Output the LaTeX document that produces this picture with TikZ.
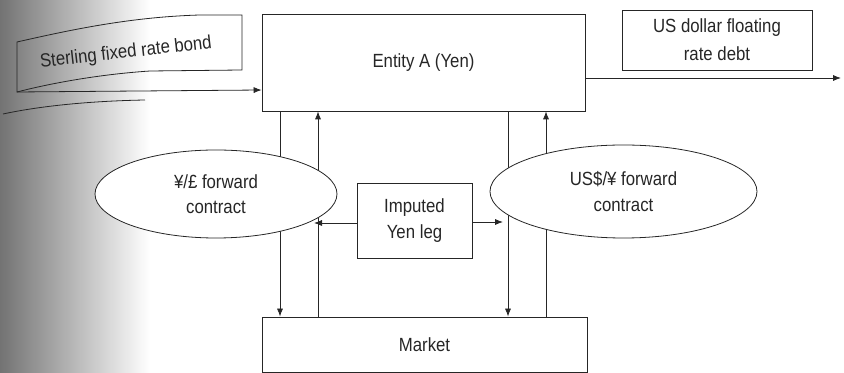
\documentclass[tikz,border=0pt]{standalone}
\usepackage{fontspec}
\setmainfont[FakeStretch=0.88]{Liberation Sans}
\usetikzlibrary{arrows.meta,shapes.geometric}

\begin{document}
\begin{tikzpicture}[
  x=0.75pt, y=-0.75pt,
  ln/.style={draw=black!85, line width=0.6pt},
  arr/.style={ln, -{Latex[length=6pt,width=4.6pt]}},
  lbl/.style={font=\fontsize{14.3}{19}\selectfont, text=black!85, align=center},
  boxnode/.style={ln, lbl, rectangle, inner sep=0pt},
  ovalnode/.style={ln, lbl, ellipse, fill=white, inner sep=0pt}
]
\useasboundingbox (0,0) rectangle (844,373);

% grey wash along the left margin
\shade[left color=black!55, middle color=black!22, right color=white] (0,0) rectangle (150,373);

% main boxes
\node[boxnode, minimum width=242.25pt, minimum height=72.75pt] (ent) at (423.5,62.5) {Entity A (Yen)};
\node[boxnode, minimum width=142.5pt, minimum height=45pt] (usd) at (717,40) {US dollar floating\\[2pt]rate debt};
\node[boxnode, minimum width=243.75pt, minimum height=41.25pt] (mkt) at (424.5,344.5) {Market};
\node[boxnode, minimum width=86.25pt, minimum height=56.25pt] (imp) at (414.5,220.5) {Imputed\\Yen leg};

% sterling bond sheet, drawn in perspective
\draw[ln] (17,42) .. controls (70,30) and (130,17) .. (200,15) -- (242,15) -- (242,70)
  -- (150,71) .. controls (90,75) and (40,86) .. (17,92) -- cycle;
\draw[ln] (3,114) .. controls (40,106) and (90,101) .. (145,100);
\node[lbl, rotate=6.5] (bond) at (126,53) {Sterling fixed rate bond};
\coordinate (bondtail) at (17,92);
\draw[arr] (bondtail) -- (ent.west |- 0,90);

% US dollar flow out of the entity
\coordinate (usout) at (841,78);
\draw[arr] (ent.east |- usout) -- (usout);

% flows between entity and market
\draw[arr] (ent.south -| 280,0) -- (mkt.north -| 280,0);
\draw[arr] (mkt.north -| 318,0) -- (ent.south -| 318,0);
\draw[arr] (ent.south -| 508,0) -- (mkt.north -| 508,0);
\draw[arr] (mkt.north -| 546,0) -- (ent.south -| 546,0);

% forward contracts
\node[ovalnode, minimum width=181.5pt, minimum height=66pt] (lell) at (216,194) {¥/£ forward\\contract};
\node[ovalnode, minimum width=200.25pt, minimum height=69.75pt] (rell) at (623.5,191.5) {US\$/¥ forward\\contract};

% imputed yen leg feeding both contracts
\coordinate (lhit) at (314,223);
\coordinate (rhit) at (503,222);
\draw[arr] (imp.west |- lhit) -- (lhit);
\draw[arr] (imp.east |- rhit) -- (rhit);
\end{tikzpicture}
\end{document}
